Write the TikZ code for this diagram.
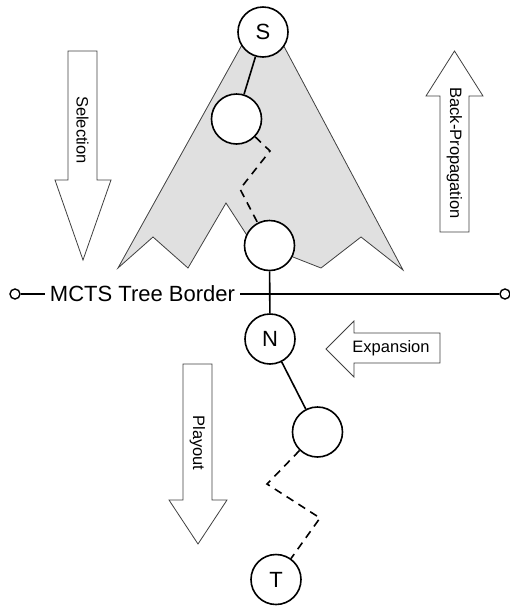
\documentclass[tikz,border=0pt]{standalone}
\usepackage{fontspec}
\setmainfont{Liberation Sans}
\usetikzlibrary{positioning,calc}
\definecolor{treegray}{HTML}{E0E0E0}
\definecolor{edgegray}{HTML}{404040}

\begin{document}
\begin{tikzpicture}[x=1pt, y=-1pt,
  estado/.style={circle, draw, line width=1.6pt, fill=white, minimum size=50pt, inner sep=0pt, font=\fontsize{22}{22}\selectfont},
  extremo/.style={circle, draw, line width=1.4pt, fill=white, minimum size=10pt, inner sep=0pt},
  bloque/.style={draw=edgegray, line width=0.8pt, fill=white, line join=miter},
  etiq/.style={font=\fontsize{16.5}{16.5}\selectfont, inner sep=0pt},
  arista/.style={line width=1.6pt},
  salto/.style={line width=1.6pt, dash pattern=on 8pt off 6pt}
]
\useasboundingbox (0,0) rectangle (510,606);
% arbol explorado (zona gris)
\draw[fill=treegray, draw=edgegray, line width=0.8pt, line join=miter]
  (263,7) -- (403,270) -- (361,237) -- (321,268) -- (293,257) -- (250,240)
  -- (226,203) -- (188,268) -- (153,237) -- (118,268) -- cycle;
% frontera del arbol
\node[extremo] (izq) at (15,294) {};
\node[extremo] (der) at (505,294) {};
\node[font=\fontsize{22}{22}\selectfont, inner sep=5pt] (frontera) at (142.5,294) {MCTS Tree Border};
\draw[line width=1.6pt] (izq) -- (frontera.west);
\draw[line width=1.6pt] (frontera.east) -- (der);
% nodos del arbol
\node[estado] (s) at (263,32) {S};
\node[estado] (n1) at (236.5,119) {};
\node[estado] (n2) at (269.5,245.5) {};
\node[estado] (n) at (270,339) {N};
\node[estado] (n3) at (317.5,432) {};
\node[estado] (t) at (276,579.5) {T};
% puntos de quiebre de los caminos punteados
\coordinate (q1) at (270,151);
\coordinate (q2) at (240,189);
\coordinate (q3) at (267,484);
\coordinate (q4) at (320,518);
% aristas
\draw[arista] (s) -- (n1);
\draw[salto] (n1) -- (q1) -- (q2) -- (n2);
\draw[arista] (n2) -- (n);
\draw[arista] (n) -- (n3);
\draw[salto] (n3) -- (q3) -- (q4) -- (t);
% flechas de las fases
\draw[bloque] (68,51) -- (97,51) -- (97,180) -- (111,180) -- (83,260) -- (55,180) -- (68,180) -- cycle;
\node[etiq, rotate=-90] (sel) at (82.5,130) {Selection};
\draw[bloque] (440,232) -- (469,232) -- (469,96) -- (483,96) -- (454.5,51) -- (426,96) -- (440,96) -- cycle;
\node[etiq, rotate=-90] (back) at (454.5,153) {Back-Propagation};
\draw[bloque] (440,333) -- (440,363) -- (354,363) -- (354,377) -- (326,349) -- (354,321) -- (354,333) -- cycle;
\node[etiq] (exp) at (391,348) {Expansion};
\draw[bloque] (183,364) -- (212,364) -- (212,500) -- (227,500) -- (198,544) -- (169,500) -- (183,500) -- cycle;
\node[etiq, rotate=-90] (play) at (197.5,443) {Playout};
\end{tikzpicture}
\end{document}
